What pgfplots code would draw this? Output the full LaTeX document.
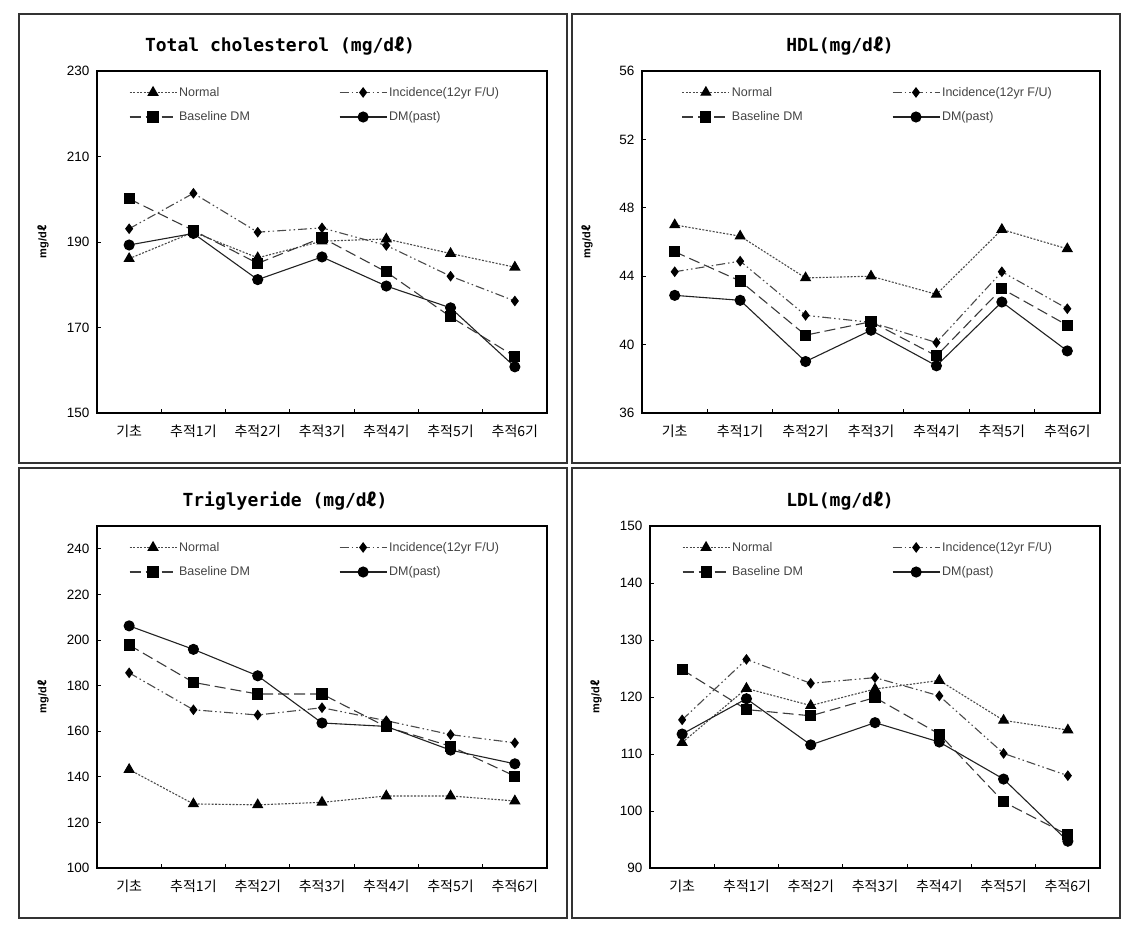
\documentclass[border=0pt]{standalone}
\usepackage{fontspec}
\setmainfont{Liberation Sans}
\newfontfamily\kr{Noto Sans CJK KR}
\newfontfamily\ttl{DejaVu Sans Mono}
\usepackage{pgfplots}
\usepackage{pgfplotstable}
\pgfplotsset{compat=1.18}

\definecolor{lgray}{HTML}{4A4A4A}
\definecolor{mgray}{HTML}{3A3A3A}
\definecolor{dgray}{HTML}{222222}
\definecolor{txtgray}{HTML}{444444}

\pgfplotstableread{
x n i b d
0 186.1 193.1 200.1 189.3
1 192.3 201.4 192.7 192.0
2 186.3 192.3 185.0 181.2
3 190.2 193.3 191.0 186.5
4 190.7 189.2 183.0 179.7
5 187.3 182.0 172.5 174.6
6 184.1 176.2 163.2 160.8
}\tcdata

\pgfplotstableread{
x n i b d
0 47.00 44.26 45.43 42.88
1 46.34 44.88 43.72 42.59
2 43.90 41.71 40.55 39.01
3 44.00 41.30 41.34 40.84
4 42.94 40.12 39.34 38.76
5 46.73 44.26 43.27 42.49
6 45.60 42.10 41.13 39.63
}\hdldata

\pgfplotstableread{
x n i b d
0 143.2 185.6 197.8 206.2
1 128.1 169.4 181.4 195.9
2 127.7 167.1 176.3 184.3
3 128.8 170.3 176.3 163.6
4 131.6 164.6 161.9 162.1
5 131.6 158.5 153.4 151.7
6 129.4 154.9 140.3 145.7
}\tgdata

\pgfplotstableread{
x n i b d
0 112.0 116.0 124.8 113.5
1 121.5 126.6 117.8 119.7
2 118.5 122.4 116.7 111.6
3 121.4 123.4 119.9 115.5
4 122.9 120.2 113.5 112.1
5 115.9 110.1 101.6 105.6
6 114.2 106.2 95.8 94.7
}\ldldata

\pgfplotsset{
  panel/.style={
    scale only axis, anchor=south west, height=342pt,
    xmin=-0.5, xmax=6.5,
    xtick={0,...,6},
    xticklabels={기초,추적1기,추적2기,추적3기,추적4기,추적5기,추적6기},
    every major x tick/.append style={draw=none},
    minor xtick={0.5,1.5,...,5.5},
    tick align=inside,
    major tick length=4pt, minor tick length=4pt,
    xtick pos=bottom, ytick pos=left,
    axis line style={line width=1.1pt, black},
    tick style={line width=0.8pt, black},
    /pgf/number format/assume math mode=true,
    yticklabel style={font=\fontsize{13.5}{15}\selectfont, xshift=-4pt, text=black},
    xticklabel style={font=\kr\fontsize{14}{16}\selectfont, yshift=-8pt, text=black},
    ylabel={\bfseries mg/d{\kr\bfseries ℓ}},
    ylabel style={at={(axis description cs:-0.12,0.5)}, anchor=center, rotate=0, font=\fontsize{11}{13}\selectfont},
    legend columns=2,
    legend cell align=left,
    legend style={anchor=north west, draw=none, fill=none,
      font=\fontsize{12.5}{14}\selectfont, text=txtgray, row sep=10pt},
    legend image code/.code={\draw[mark repeat=2,mark phase=2] plot coordinates {(0pt,0pt) (23.5pt,0pt) (47pt,0pt)};},
  },
  sN/.style={lgray, line width=1.1pt, dash pattern=on 2pt off 1.5pt, mark=triangle*, mark size=5.5pt, mark options={solid, fill=black, draw=black}},
  sI/.style={lgray, line width=1.1pt, dash pattern=on 9pt off 3pt on 1.5pt off 3pt on 1.5pt off 3pt, mark=diamond*, mark size=4.5pt, mark options={solid, fill=black, draw=black}},
  sB/.style={mgray, line width=1.1pt, dash pattern=on 11pt off 5pt, mark=square*, mark size=5pt, mark options={solid, fill=black, draw=black}},
  sD/.style={dgray, line width=1.1pt, solid, mark=*, mark size=5pt, mark options={solid, fill=black, draw=black}},
}

\newcommand{\entries}{%
  \legend{\makebox[158pt][l]{Normal},Incidence(12yr F/U),\makebox[158pt][l]{Baseline DM},DM(past)}}

\begin{document}
\begin{tikzpicture}[x=1pt,y=1pt]
\path[use as bounding box] (0,0) rectangle (1134,927);
% panel frames
\draw[line width=1.2pt, black!80] (19,464) rectangle (567,913);
\draw[line width=1.2pt, black!80] (572,464) rectangle (1120,913);
\draw[line width=1.2pt, black!80] (19,9) rectangle (567,459);
\draw[line width=1.2pt, black!80] (572,9) rectangle (1120,459);
% titles
\node[font=\ttl\bfseries\fontsize{18}{20}\selectfont] at (280,881) {Total cholesterol (mg/d{\kr\bfseries ℓ})};
\node[font=\ttl\bfseries\fontsize{18}{20}\selectfont] at (840,881) {HDL(mg/d{\kr\bfseries ℓ})};
\node[font=\ttl\bfseries\fontsize{18}{20}\selectfont] at (285,426) {Triglyeride (mg/d{\kr\bfseries ℓ})};
\node[font=\ttl\bfseries\fontsize{18}{20}\selectfont] at (840,426) {LDL(mg/d{\kr\bfseries ℓ})};

\begin{axis}[panel, at={(97pt,514pt)}, width=450pt,
  ymin=150, ymax=230, ytick={150,170,...,230},
  legend style={at={(0.064,0.965)}}]
\addplot[sN] table[x=x,y=n] {\tcdata};
\addplot[sI] table[x=x,y=i] {\tcdata};
\addplot[sB] table[x=x,y=b] {\tcdata};
\addplot[sD] table[x=x,y=d] {\tcdata};
\entries
\end{axis}

\begin{axis}[panel, at={(642pt,514pt)}, width=458pt,
  ymin=36, ymax=56, ytick={36,40,...,56},
  legend style={at={(0.08,0.965)}}]
\addplot[sN] table[x=x,y=n] {\hdldata};
\addplot[sI] table[x=x,y=i] {\hdldata};
\addplot[sB] table[x=x,y=b] {\hdldata};
\addplot[sD] table[x=x,y=d] {\hdldata};
\entries
\end{axis}

\begin{axis}[panel, at={(97pt,59pt)}, width=450pt,
  ymin=100, ymax=250, ytick={100,120,...,240},
  legend style={at={(0.064,0.965)}}]
\addplot[sN] table[x=x,y=n] {\tgdata};
\addplot[sI] table[x=x,y=i] {\tgdata};
\addplot[sB] table[x=x,y=b] {\tgdata};
\addplot[sD] table[x=x,y=d] {\tgdata};
\entries
\end{axis}

\begin{axis}[panel, at={(650pt,59pt)}, width=450pt,
  ymin=90, ymax=150, ytick={90,100,...,150},
  legend style={at={(0.064,0.965)}}]
\addplot[sN] table[x=x,y=n] {\ldldata};
\addplot[sI] table[x=x,y=i] {\ldldata};
\addplot[sB] table[x=x,y=b] {\ldldata};
\addplot[sD] table[x=x,y=d] {\ldldata};
\entries
\end{axis}
\end{tikzpicture}
\end{document}
